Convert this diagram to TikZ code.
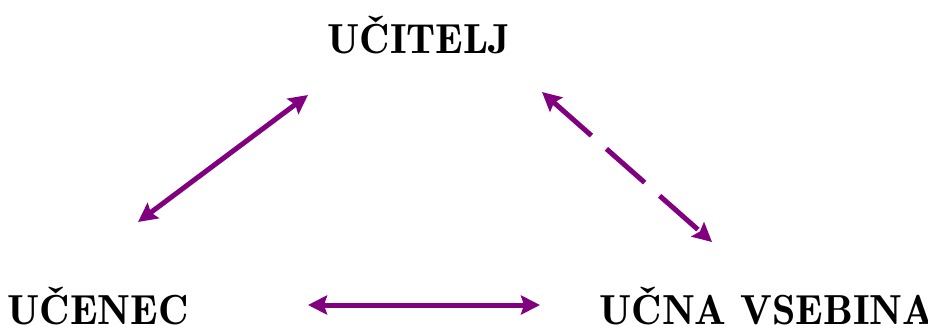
\documentclass[tikz,border=0pt]{standalone}
\usepackage{fontspec}
\usepackage{tikz}
\usetikzlibrary{arrows.meta}

\newfontfamily\polkrepko{lmromandemi10-regular.otf}
\definecolor{vijolicna}{RGB}{128,0,128}

\begin{document}
\begin{tikzpicture}[x=1pt,y=-1pt,
    every node/.style={font=\polkrepko\fontsize{42}{46}\selectfont,anchor=base,inner sep=0pt},
    link/.style={draw=vijolicna,line width=5pt,
      {Stealth[length=19pt,width=19pt,inset=3pt]}-{Stealth[length=19pt,width=19pt,inset=3pt]}}]
\useasboundingbox (0,0) rectangle (928,325);

\node (ucitelj) at (419,53) {UČITELJ};
\node (ucenec) at (98,324) {UČENEC};
\node (vsebina) at (767,324) {UČNA VSEBINA};

% konci puscic
\coordinate (uc-l) at (138,222);
\coordinate (ut-l) at (308,95);
\coordinate (ut-d) at (542,92);
\coordinate (vs-d) at (712,242);
\coordinate (uc-s) at (308,305);
\coordinate (vs-s) at (540,305);

\path
    (uc-l) edge [link] (ut-l)
    (ut-d) edge [link,dash pattern=on 51pt off 20pt] (vs-d)
    (uc-s) edge [link] (vs-s);
\end{tikzpicture}
\end{document}
